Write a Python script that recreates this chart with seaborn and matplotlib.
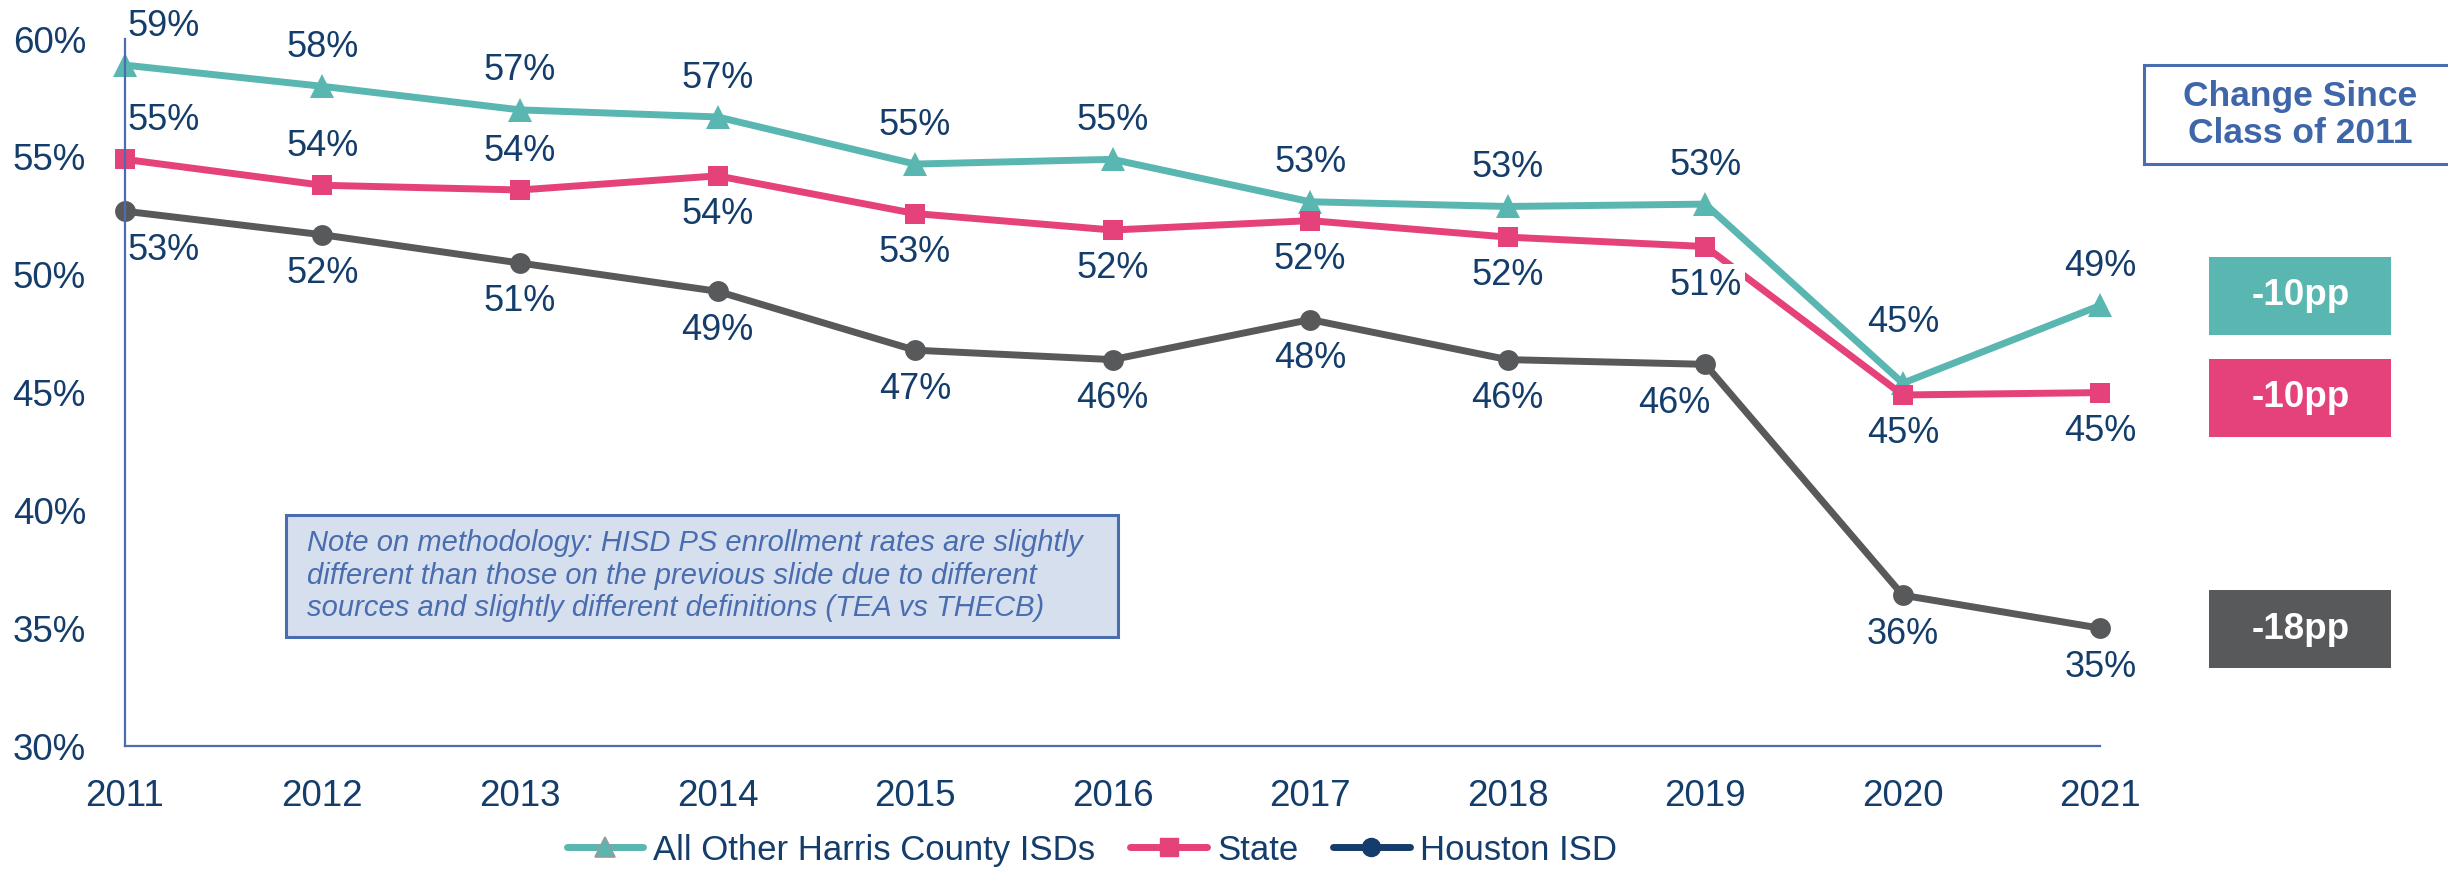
import math
import pandas as pd
import matplotlib.pyplot as plt
import seaborn as sns
from matplotlib.lines import Line2D
from matplotlib.patches import Rectangle

years = [2011, 2012, 2013, 2014, 2015, 2016, 2017, 2018, 2019, 2020, 2021]
harris = [58.9, 58.0, 57.0, 56.7, 54.7, 54.9, 53.1, 52.9, 53.0, 45.4, 48.7]
state = [54.9, 53.8, 53.6, 54.2, 52.6, 51.9, 52.3, 51.6, 51.2, 44.9, 45.0]
houston = [52.7, 51.7, 50.5, 49.3, 46.8, 46.4, 48.1, 46.4, 46.2, 36.4, 35.0]
series_names = ["All Other Harris County ISDs", "State", "Houston ISD"]
changes = ["-10pp", "-10pp", "-18pp"]

# where each data label sits: +1 above the point, -1 below
harris_pos = [1] * 11
state_pos = [1, 1, 1, -1, -1, -1, -1, -1, -1, -1, -1]
houston_pos = [-1] * 11

TEAL = "#5AB6B1"
PINK = "#E5417A"
GRAY = "#58595B"
NAVY = "#143D6B"
BLUE = "#4A6DB0"

sns.set_style("white")
plt.rcParams["font.family"] = ["Liberation Sans", "DejaVu Sans"]

df = pd.DataFrame({
    "year": years * 3,
    "rate": harris + state + houston,
    "series": [n for n in series_names for _ in years],
})

fig = plt.figure(figsize=(24.48, 8.71), dpi=100)
ax = fig.add_axes([0.051, 0.1435, 0.807, 0.8115])

palette = {series_names[0]: TEAL, series_names[1]: PINK, series_names[2]: GRAY}
markers = {series_names[0]: "^", series_names[1]: "s", series_names[2]: "o"}
sns.lineplot(data=df, x="year", y="rate", hue="series", style="series",
             palette=palette, markers=markers, dashes=False, linewidth=5,
             markersize=15, markeredgewidth=0, ax=ax, legend=False)
for ln in ax.lines:
    ln.set_clip_on(False)
    if ln.get_marker() == "^":
        ln.set_markersize(17)

ax.set_xlim(2011, 2021)
ax.set_ylim(30, 60)
ax.set_xticks(years)
ax.set_yticks([30, 35, 40, 45, 50, 55, 60])
ax.set_yticklabels([f"{v}%" for v in range(30, 61, 5)])
ax.set_xlabel("")
ax.set_ylabel("")
for side in ["top", "right"]:
    ax.spines[side].set_visible(False)
for side in ["left", "bottom"]:
    ax.spines[side].set_color(BLUE)
    ax.spines[side].set_linewidth(1.6)
ax.tick_params(axis="both", colors=BLUE, labelcolor=NAVY, labelsize=26.5,
               length=10, width=1.6, direction="out")
ax.tick_params(axis="x", pad=14)
ax.tick_params(axis="y", pad=18)

# data labels
for vals, pos in [(harris, harris_pos), (state, state_pos), (houston, houston_pos)]:
    for yr, v, p in zip(years, vals, pos):
        dx = 0
        dy = 28 * p
        if yr == 2011:
            dx = 28
        kw = {}
        if vals is houston and yr == 2019:
            dx = -22
        if vals is harris and yr == 2020:
            dy = 44
        if vals is state and yr == 2019:
            kw["bbox"] = dict(boxstyle="square,pad=0.1", fc="white", ec="none")
        ax.annotate(f"{math.floor(v + 0.5)}%", (yr, v), xytext=(dx, dy),
                    textcoords="offset points", ha="center", va="center",
                    fontsize=26, color=NAVY, **kw)

# note box
fig.patches.append(Rectangle((0.1168, 0.2687), 0.34, 0.14, transform=fig.transFigure,
                             fc="#D6DFEE", ec=BLUE, lw=2.2))
fig.text(0.1255, 0.339,
         "Note on methodology: HISD PS enrollment rates are slightly\n"
         "different than those on the previous slide due to different\n"
         "sources and slightly different definitions (TEA vs THECB)",
         ha="left", va="center", fontsize=21, style="italic", color=BLUE,
         linespacing=1.2)

# change since 2011 header
fig.patches.append(Rectangle((0.876, 0.812), 0.2, 0.113, transform=fig.transFigure,
                             fc="white", ec=BLUE, lw=2.2))
fig.text(0.9395, 0.868, "Change Since\nClass of 2011", ha="center", va="center",
         fontsize=25.5, fontweight="bold", color="#3F66A9", linespacing=1.15)

box_bottoms = [0.6155, 0.4983, 0.233]
for col, txt, b in zip([TEAL, PINK, GRAY], changes, box_bottoms):
    fig.patches.append(Rectangle((0.9025, b), 0.0743, 0.0896, transform=fig.transFigure,
                                 fc=col, ec="none"))
    fig.text(0.9397, b + 0.0448, txt, ha="center", va="center", fontsize=26.5,
             fontweight="bold", color="white")

handles = [
    Line2D([], [], color=TEAL, marker="^", lw=5, markersize=14,
           markeredgecolor="#9A9A9A", markeredgewidth=1.2, label=series_names[0]),
    Line2D([], [], color=PINK, marker="s", lw=5, markersize=13, label=series_names[1]),
    Line2D([], [], color=NAVY, marker="o", lw=5, markersize=13, label=series_names[2]),
]
leg = fig.legend(handles=handles, loc="center", bbox_to_anchor=(0.446, 0.024), ncol=3,
                 frameon=False, fontsize=25, handlelength=2.2, handletextpad=0.3,
                 columnspacing=1.0)
for t in leg.get_texts():
    t.set_color(NAVY)

fig.savefig("out.png", dpi=100)
